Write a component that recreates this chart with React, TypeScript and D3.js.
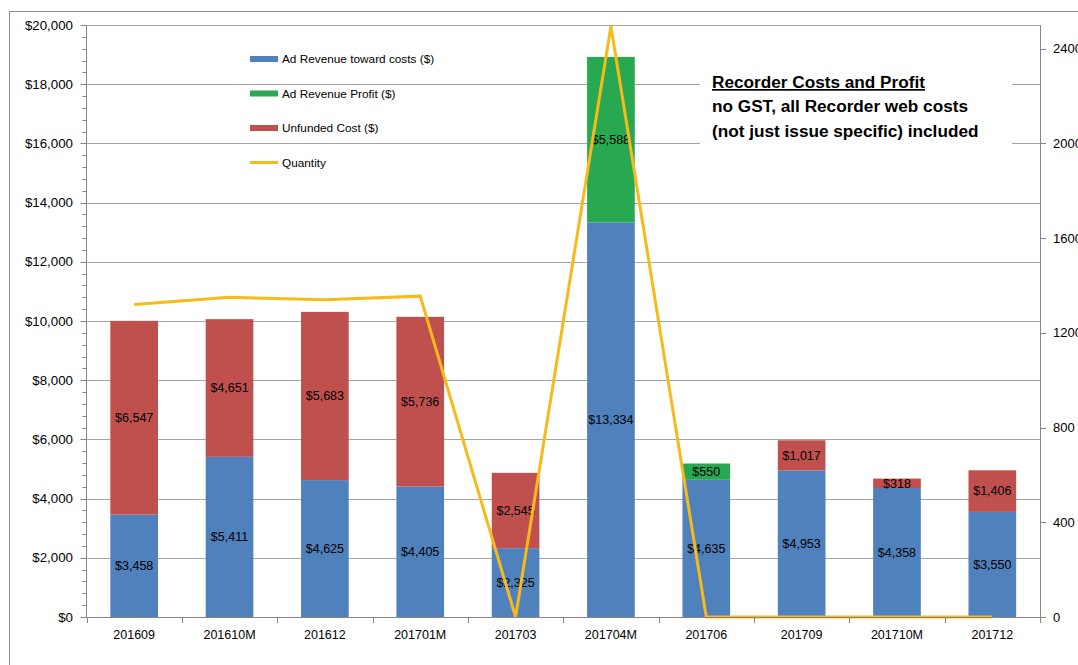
import * as d3 from "d3";

const W = 1078;
const H = 665;
const M = { left: 86.5, right: 1040, top: 25, bottom: 617 };

const categories = ["201609", "201610M", "201612", "201701M", "201703", "201704M", "201706", "201709", "201710M", "201712"];
const adRevenueCosts = [3458, 5411, 4625, 4405, 2325, 13334, 4635, 4953, 4358, 3550];
const adRevenueProfit = [0, 0, 0, 0, 0, 5588, 550, 0, 0, 0];
const unfundedCost = [6547, 4651, 5683, 5736, 2545, 0, 0, 1017, 318, 1406];
const quantity = [1320, 1350, 1340, 1355, 0, 2495, 0, 0, 0, 0];

const leftTicks = d3.range(0, 20001, 2000);
const rightTicks = d3.range(0, 2401, 400);

const series = [
  { name: "Ad Revenue toward costs ($)", values: adRevenueCosts, color: "#4F81BD" },
  { name: "Ad Revenue Profit ($)", values: adRevenueProfit, color: "#28A850" },
  { name: "Unfunded Cost ($)", values: unfundedCost, color: "#C0504D" },
];

const FONT = "'Liberation Sans', Arial, sans-serif";
const fmt = (v: number) => "$" + d3.format(",")(v);

export default function App() {
  const x = d3.scaleBand<string>().domain(categories).range([M.left, M.right]).paddingInner(0.5).paddingOuter(0.25);
  const yL = d3.scaleLinear().domain([0, 20000]).range([M.bottom, M.top]);
  const yR = d3.scaleLinear().domain([0, 2500]).range([M.bottom, M.top]);
  const step = x.step();
  const bw = x.bandwidth();

  // stack the three bar series
  const stackData = categories.map((c, i) => ({
    c,
    s0: adRevenueCosts[i],
    s1: adRevenueProfit[i],
    s2: unfundedCost[i],
  }));
  const stacked = d3.stack<any>().keys(["s0", "s1", "s2"])(stackData);

  const line = d3
    .line<number>()
    .x((_, i) => (x(categories[i]) ?? 0) + bw / 2)
    .y((d) => yR(d));

  const minorTicks = d3.range(0, 20001, 400).filter((v) => v % 2000 !== 0);
  const bounds = d3.range(0, categories.length + 1).map((i) => M.left + i * step);

  return (
    <svg width={W} height={H} style={{ position: "absolute", left: 0, top: 0, background: "#fff" }} fontFamily={FONT}>
      {/* chart border */}
      <rect x={9.5} y={11.5} width={W + 20} height={H + 20} fill="#fff" stroke="#8C8C8C" strokeWidth={1} />

      {/* gridlines */}
      {leftTicks.map((t) => (
        <line key={t} x1={M.left} x2={M.right} y1={Math.round(yL(t)) + 0.5} y2={Math.round(yL(t)) + 0.5} stroke="#A6A6A6" strokeWidth={1} />
      ))}

      {/* title box */}
      <rect x={700} y={66} width={312} height={82} fill="#fff" />
      <g fontSize={17.2} fontWeight="bold" fill="#000">
        <text x={712} y={88} textDecoration="underline">Recorder Costs and Profit</text>
        <text x={712} y={112}>no GST, all Recorder web costs</text>
        <text x={712} y={137}>(not just issue specific) included</text>
      </g>

      {/* bars */}
      {stacked.map((layer, li) => (
        <g key={li} fill={series[li].color}>
          {layer.map((d, i) =>
            d[1] - d[0] > 0 ? (
              <rect key={i} x={x(categories[i])} y={yL(d[1])} width={bw} height={yL(d[0]) - yL(d[1])} />
            ) : null
          )}
        </g>
      ))}

      {/* data labels */}
      {stacked.map((layer, li) => (
        <g key={li} fontSize={12.5} fill="#000" textAnchor="middle">
          {layer.map((d, i) =>
            d[1] - d[0] > 0 ? (
              <text key={i} x={(x(categories[i]) ?? 0) + bw / 2} y={yL((d[0] + d[1]) / 2)} dy="0.35em">
                {fmt(d[1] - d[0])}
              </text>
            ) : null
          )}
        </g>
      ))}

      {/* quantity line */}
      <path d={line(quantity) ?? ""} fill="none" stroke="#F8BA1A" strokeWidth={3} strokeLinejoin="miter" />

      {/* left axis */}
      <line x1={M.left} x2={M.left} y1={M.top} y2={M.bottom} stroke="#868686" />
      {leftTicks.map((t) => (
        <g key={t}>
          <line x1={M.left - 6} x2={M.left} y1={Math.round(yL(t)) + 0.5} y2={Math.round(yL(t)) + 0.5} stroke="#868686" />
          <text x={73} y={yL(t)} dy="0.35em" textAnchor="end" fontSize={13.3} fill="#000">{fmt(t)}</text>
        </g>
      ))}
      {minorTicks.map((t) => (
        <line key={t} x1={M.left - 4} x2={M.left} y1={Math.round(yL(t)) + 0.5} y2={Math.round(yL(t)) + 0.5} stroke="#868686" />
      ))}

      {/* right axis */}
      <line x1={M.right + 0.5} x2={M.right + 0.5} y1={M.top} y2={M.bottom} stroke="#868686" />
      {rightTicks.map((t) => (
        <g key={t}>
          <line x1={M.right} x2={M.right + 6} y1={Math.round(yR(t)) + 0.5} y2={Math.round(yR(t)) + 0.5} stroke="#868686" />
          <text x={1053} y={yR(t)} dy="0.35em" fontSize={13} fill="#000">{t}</text>
        </g>
      ))}

      {/* bottom axis */}
      <line x1={M.left} x2={M.right} y1={M.bottom + 0.5} y2={M.bottom + 0.5} stroke="#868686" />
      {bounds.map((b, i) => (
        <line key={i} x1={Math.round(b) + 0.5} x2={Math.round(b) + 0.5} y1={M.bottom} y2={M.bottom + 6} stroke="#868686" />
      ))}
      {categories.map((c) => (
        <text key={c} x={(x(c) ?? 0) + bw / 2} y={635} dy="0.35em" textAnchor="middle" fontSize={12.5} fill="#000">{c}</text>
      ))}

      {/* legend */}
      <g fontSize={11.8} fill="#000">
        {series.map((s, i) => (
          <g key={s.name}>
            <rect x={250} y={56 + i * 34.5} width={28} height={6} fill={s.color} />
            <text x={282} y={59 + i * 34.5} dy="0.35em">{s.name}</text>
          </g>
        ))}
        <line x1={250} x2={278} y1={162.5} y2={162.5} stroke="#F8BA1A" strokeWidth={3} />
        <text x={282} y={162.5} dy="0.35em">Quantity</text>
      </g>
    </svg>
  );
}
